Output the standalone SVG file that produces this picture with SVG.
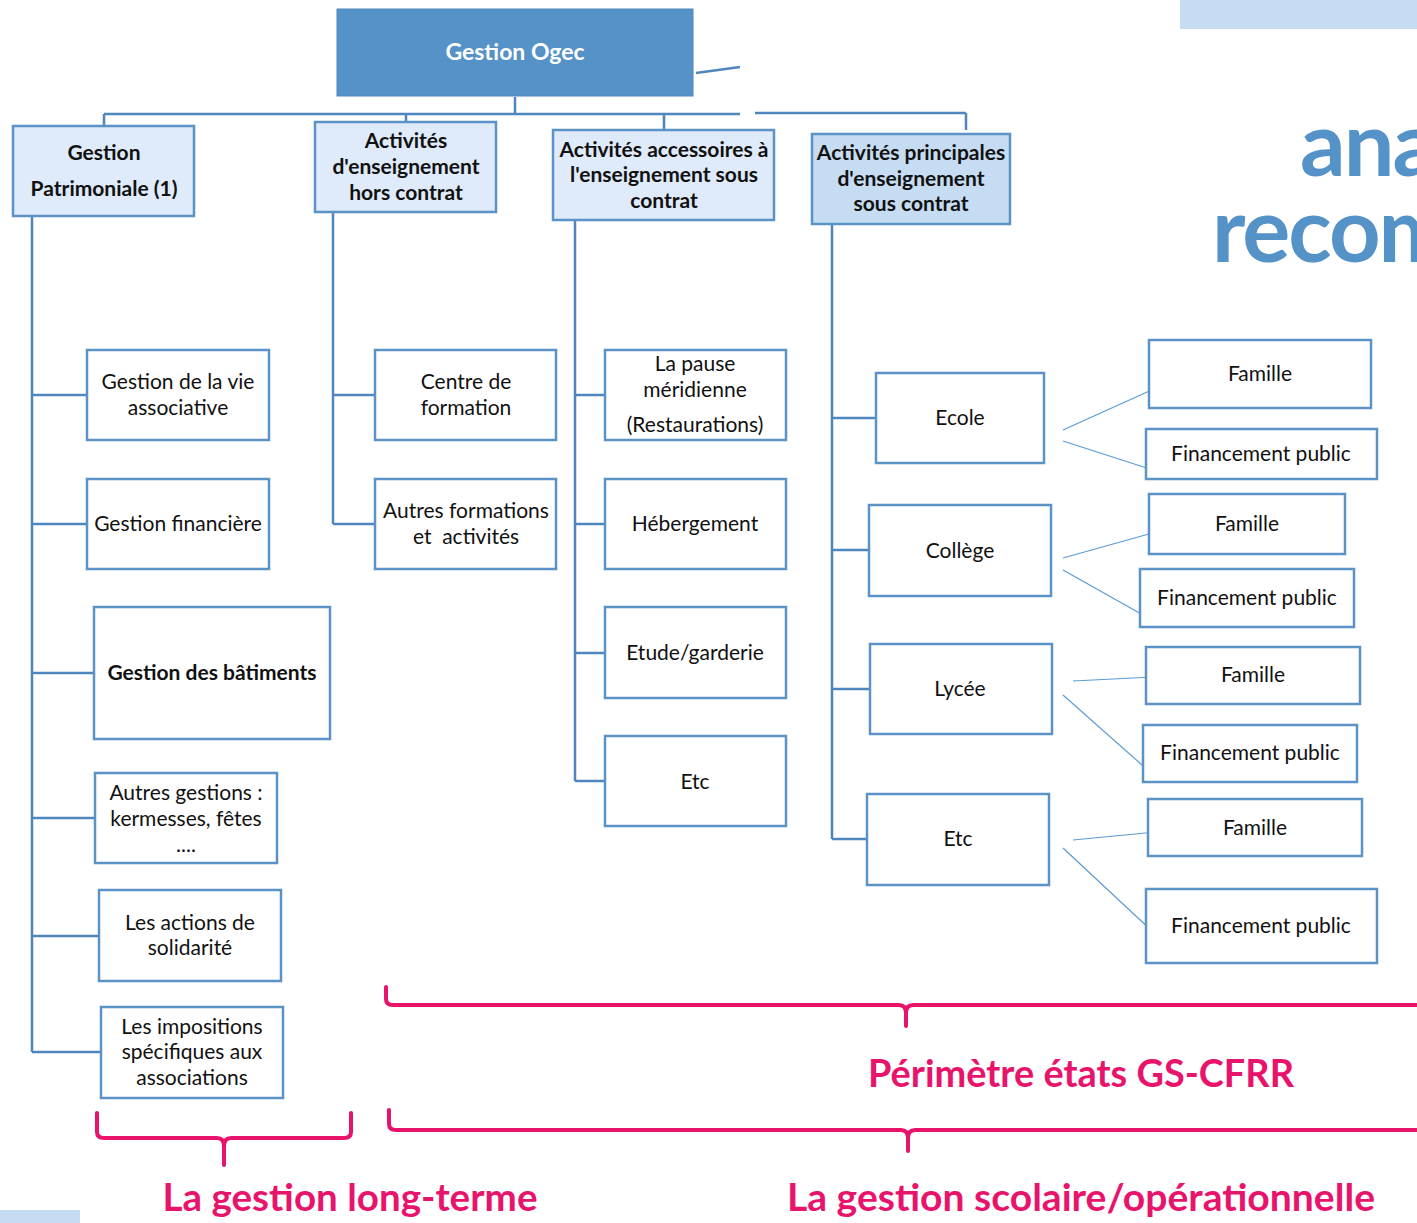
<svg xmlns="http://www.w3.org/2000/svg" width="1417" height="1223" viewBox="0 0 1417 1223">
<style>
  .box{fill:#ffffff;stroke:#5b93c7;stroke-width:2.5}
  .top{fill:#dfeafa;stroke:#5b93c7;stroke-width:2.5}
  .top2{fill:#c6dcf2;stroke:#5b93c7;stroke-width:2.5}
  .t{font-family:Lato,"Open Sans",sans-serif;font-size:21px;fill:#111;text-anchor:middle}
  .b{font-family:Lato,"Open Sans",sans-serif;font-size:21px;font-weight:bold;fill:#111;text-anchor:middle}
  .conn{fill:none;stroke:#4f86bd;stroke-width:2.5}
  .thin{fill:none;stroke:#5b9bd5;stroke-width:1.2}
  .brace{fill:none;stroke:#e8146c;stroke-width:4;stroke-linecap:round}
  .pink{font-family:Lato,"Open Sans",sans-serif;font-weight:bold;fill:#e8146c;text-anchor:middle}
  .big{font-family:Lato,"Open Sans",sans-serif;font-weight:bold;fill:#5592c8;font-size:90px;letter-spacing:-2px}
</style>
<rect width="1417" height="1223" fill="#ffffff"/>
<rect x="1180" y="0" width="237" height="29" fill="#c6dcf2"/>
<rect x="0" y="1210" width="80" height="13" fill="#c6dcf2"/>
<text class="big" x="1300" y="176">ana</text>
<text class="big" x="1212" y="262">recom</text>

<g id="connectors">
  <path class="conn" d="M515,97 V114 M104,114 H740 M755,113 H966 M104,114 V126 M406,114 V122 M664,114 V130 M966,113 V130"/>
  <path class="conn" d="M696,73 L740,67" stroke-width="2"/>
  <path class="conn" d="M32,216 V1052 M32,395 H87 M32,524 H87 M32,673 H94 M32,818 H95 M32,936 H99 M32,1052 H101"/>
  <path class="conn" d="M333,212 V524 M333,395 H375 M333,524 H375"/>
  <path class="conn" d="M575,220 V781 M575,395 H605 M575,524 H605 M575,653 H605 M575,781 H605"/>
  <path class="conn" d="M832,224 V839 M832,418 H876 M832,550 H869 M832,689 H870 M832,839 H867"/>
  <path class="thin" d="M1063,430 L1156,388 M1063,441 L1156,471 M1063,558 L1156,532 M1063,570 L1143,615 M1073,681 L1153,677 M1063,695 L1142,765 M1073,840 L1156,832 M1063,848 L1153,932"/>
</g>

<g id="ogec">
  <rect x="337" y="9" width="356" height="87" fill="#5592c8" stroke="#4f86bd" stroke-width="1"/>
  <text x="515" y="60" font-family="Lato,'Open Sans',sans-serif" font-size="23" font-weight="bold" fill="#ffffff" text-anchor="middle">Gestion Ogec</text>
</g>

<g id="gestion-patrimoniale">
  <rect class="top" x="13" y="126" width="181" height="90"/>
  <text class="b" x="104" y="160">Gestion</text>
  <text class="b" x="104" y="196">Patrimoniale (1)</text>
</g>
<g id="hors-contrat">
  <rect class="top" x="315" y="122" width="181" height="90"/>
  <text class="b" x="406" y="148">Activités</text>
  <text class="b" x="406" y="174">d'enseignement</text>
  <text class="b" x="406" y="200">hors contrat</text>
</g>
<g id="accessoires">
  <rect class="top" x="553" y="130" width="221" height="90"/>
  <text class="b" x="664" y="157">Activités accessoires à</text>
  <text class="b" x="664" y="182">l'enseignement sous</text>
  <text class="b" x="664" y="208">contrat</text>
</g>
<g id="principales">
  <rect class="top2" x="812" y="134" width="198" height="90"/>
  <text class="b" x="911" y="160">Activités principales</text>
  <text class="b" x="911" y="186">d'enseignement</text>
  <text class="b" x="911" y="211">sous contrat</text>
</g>

<g id="vie-associative">
  <rect class="box" x="87" y="350" width="182" height="90"/>
  <text class="t" x="178" y="389">Gestion de la vie</text>
  <text class="t" x="178" y="415">associative</text>
</g>
<g id="financiere">
  <rect class="box" x="87" y="479" width="182" height="90"/>
  <text class="t" x="178" y="531">Gestion financière</text>
</g>
<g id="batiments">
  <rect class="box" x="94" y="607" width="236" height="132"/>
  <text class="b" x="212" y="680">Gestion des bâtiments</text>
</g>
<g id="autres-gestions">
  <rect class="box" x="95" y="773" width="182" height="90"/>
  <text class="t" x="186" y="800">Autres gestions :</text>
  <text class="t" x="186" y="826">kermesses, fêtes</text>
  <text class="t" x="186" y="852">....</text>
</g>
<g id="solidarite">
  <rect class="box" x="99" y="890" width="182" height="91"/>
  <text class="t" x="190" y="930">Les actions de</text>
  <text class="t" x="190" y="955">solidarité</text>
</g>
<g id="impositions">
  <rect class="box" x="101" y="1007" width="182" height="91"/>
  <text class="t" x="192" y="1034">Les impositions</text>
  <text class="t" x="192" y="1059">spécifiques aux</text>
  <text class="t" x="192" y="1085">associations</text>
</g>

<g id="centre-formation">
  <rect class="box" x="375" y="350" width="181" height="90"/>
  <text class="t" x="466" y="389">Centre de</text>
  <text class="t" x="466" y="415">formation</text>
</g>
<g id="autres-formations">
  <rect class="box" x="375" y="479" width="181" height="90"/>
  <text class="t" x="466" y="518">Autres formations</text>
  <text class="t" x="466" y="544" xml:space="preserve">et  activités</text>
</g>

<g id="pause">
  <rect class="box" x="605" y="350" width="181" height="90"/>
  <text class="t" x="695" y="371">La pause</text>
  <text class="t" x="695" y="397">méridienne</text>
  <text class="t" x="695" y="432">(Restaurations)</text>
</g>
<g id="hebergement">
  <rect class="box" x="605" y="479" width="181" height="90"/>
  <text class="t" x="695" y="531">Hébergement</text>
</g>
<g id="etude">
  <rect class="box" x="605" y="607" width="181" height="91"/>
  <text class="t" x="695" y="660">Etude/garderie</text>
</g>
<g id="etc1">
  <rect class="box" x="605" y="736" width="181" height="90"/>
  <text class="t" x="695" y="789">Etc</text>
</g>

<g id="ecole">
  <rect class="box" x="876" y="373" width="168" height="90"/>
  <text class="t" x="960" y="425">Ecole</text>
</g>
<g id="college">
  <rect class="box" x="869" y="505" width="182" height="91"/>
  <text class="t" x="960" y="558">Collège</text>
</g>
<g id="lycee">
  <rect class="box" x="870" y="644" width="182" height="90"/>
  <text class="t" x="960" y="696">Lycée</text>
</g>
<g id="etc2">
  <rect class="box" x="867" y="794" width="182" height="91"/>
  <text class="t" x="958" y="846">Etc</text>
</g>

<g id="famille1">
  <rect class="box" x="1149" y="340" width="222" height="68"/>
  <text class="t" x="1260" y="381">Famille</text>
</g>
<g id="fin1">
  <rect class="box" x="1146" y="429" width="231" height="50"/>
  <text class="t" x="1261" y="461">Financement public</text>
</g>
<g id="famille2">
  <rect class="box" x="1149" y="494" width="196" height="60"/>
  <text class="t" x="1247" y="531">Famille</text>
</g>
<g id="fin2">
  <rect class="box" x="1140" y="569" width="214" height="58"/>
  <text class="t" x="1247" y="605">Financement public</text>
</g>
<g id="famille3">
  <rect class="box" x="1146" y="647" width="214" height="57"/>
  <text class="t" x="1253" y="682">Famille</text>
</g>
<g id="fin3">
  <rect class="box" x="1143" y="725" width="214" height="57"/>
  <text class="t" x="1250" y="760">Financement public</text>
</g>
<g id="famille4">
  <rect class="box" x="1148" y="799" width="214" height="57"/>
  <text class="t" x="1255" y="835">Famille</text>
</g>
<g id="fin4">
  <rect class="box" x="1146" y="889" width="231" height="74"/>
  <text class="t" x="1261" y="933">Financement public</text>
</g>

<g id="braces">
  <path class="brace" d="M386,987 V999 Q386,1005 393,1005 H899 Q906,1005 906,1013 V1026 M906,1013 Q906,1005 913,1005 H1419"/>
  <path class="brace" d="M389,1110 V1124 Q389,1130 396,1130 H901 Q908,1130 908,1138 V1151 M908,1138 Q908,1130 915,1130 H1419"/>
  <path class="brace" d="M97,1113 V1132 Q97,1138 104,1138 H217 Q224,1138 224,1146 V1165 M224,1146 Q224,1138 231,1138 H344 Q351,1138 351,1132 V1113"/>
</g>
<g id="labels">
  <text class="pink" x="1081" y="1087" font-size="38" textLength="426" lengthAdjust="spacingAndGlyphs">Périmètre états GS-CFRR</text>
  <text class="pink" x="350" y="1211" font-size="38" textLength="375" lengthAdjust="spacingAndGlyphs">La gestion long-terme</text>
  <text class="pink" x="1081" y="1211" font-size="38" textLength="588" lengthAdjust="spacingAndGlyphs">La gestion scolaire/opérationnelle</text>
</g>
</svg>
